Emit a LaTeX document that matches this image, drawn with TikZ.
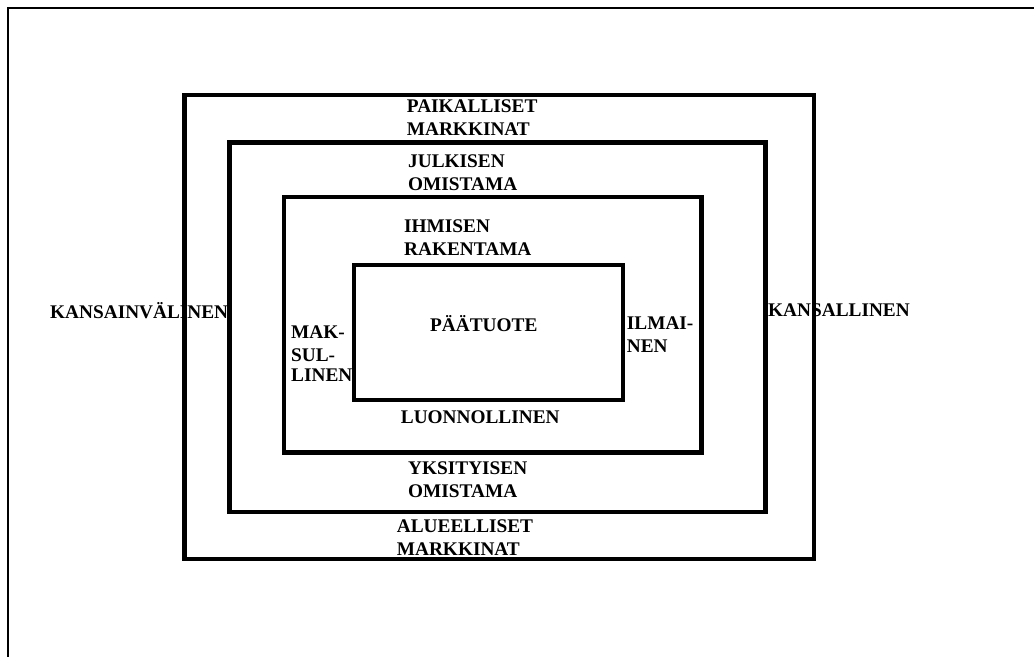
\documentclass[tikz,border=0pt]{standalone}
\usepackage{fontspec}
\setmainfont{Liberation Serif}
\usepackage{tikz}

\tikzset{
  box/.style={line width=4.5pt},
  lbl/.style={font=\bfseries\fontsize{19.3}{23}\selectfont, inner sep=0pt, anchor=base west, align=left},
}

\begin{document}
\begin{tikzpicture}[x=1pt,y=-1pt]
    \useasboundingbox (0,0) rectangle (1034,657);

    % Labels (placed at the baseline of their last line)
    \node[lbl] (paik) at (406.7,135) {PAIKALLISET\\MARKKINAT};
    \node[lbl] (julk) at (408,190.5) {JULKISEN\\OMISTAMA};
    \node[lbl] (ihm) at (404,255.7) {IHMISEN\\RAKENTAMA};
    \node[lbl] (paa) at (430,331.7) {PÄÄTUOTE};
    \node[lbl] (luon) at (400.7,423) {LUONNOLLINEN};
    \node[lbl] (yks) at (408,497) {YKSITYISEN\\OMISTAMA};
    \node[lbl] (alue) at (396.7,555.5) {ALUEELLISET\\MARKKINAT};
    \node[lbl] (kvl) at (50,318) {KANSAINVÄLINEN};
    \node[lbl] (kans) at (768,316) {KANSALLINEN};
    \node[lbl] (mak) at (291,381.7) {MAK-\\SUL-\\[-3pt]LINEN};
    \node[lbl] (ilm) at (626.7,352.7) {ILMAI-\\NEN};

    % Frame
    \draw[line width=2.3pt] (1034,8) -- (8,8) -- (8,657);

    % Boxes
    \draw[box] (184.5,94.8) rectangle (814,559);
    \draw[box] (229.7,142.5) rectangle (765.5,512);
    \draw[box] (284,197) rectangle (701.6,452.7);
    \draw[box] (354,265) rectangle (623,400);

\end{tikzpicture}
\end{document}
